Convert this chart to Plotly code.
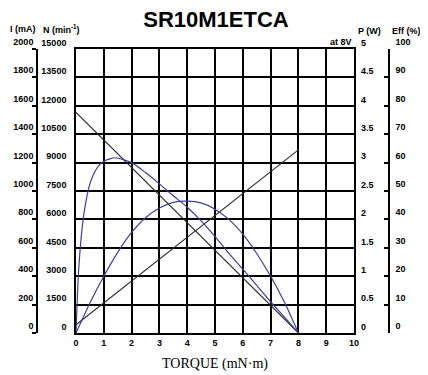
import plotly.graph_objects as go

# ---- data ----
torque_ticks = [0, 1, 2, 3, 4, 5, 6, 7, 8, 9, 10]
current_ticks = [0, 200, 400, 600, 800, 1000, 1200, 1400, 1600, 1800, 2000]
speed_ticks = [0, 1500, 3000, 4500, 6000, 7500, 9000, 10500, 12000, 13500, 15000]
power_ticks = [0, 0.5, 1, 1.5, 2, 2.5, 3, 3.5, 4, 4.5, 5]
eff_ticks = [0, 10, 20, 30, 40, 50, 60, 70, 80, 90, 100]

speed_torque = [0, 8]
speed_rpm = [11650, 0]

current_torque = [0, 8]
current_ma = [58, 1290]

power_torque = [0, 0.5, 1, 1.5, 2, 2.5, 3, 3.5, 4, 4.5, 5, 5.5, 6, 6.5, 7, 7.5, 8]
power_w = [0, 0.53, 1.0, 1.42, 1.77, 2.03, 2.2, 2.3, 2.32, 2.29, 2.18, 2.0, 1.74, 1.4, 1.0, 0.54, 0]

eff_torque = [0, 0.05, 0.1, 0.2, 0.3, 0.5, 0.75, 1.0, 1.4, 2.0, 2.5, 3.0, 3.5, 4.0,
              4.5, 5.0, 5.5, 6.0, 6.5, 7.0, 7.5, 8.0]
eff_pct = [0, 13, 23, 35, 43, 52.5, 58, 60.5, 61.7, 60, 56.5, 52.5, 48.3, 44.3,
           39.5, 34, 28, 22.5, 16.8, 11, 5.6, 0]

title_text = "SR10M1ETCA"
voltage_text = "at 8V"

# ---- styling (screen pixel targets, page body adds an 8px offset) ----
OFF = 8
W, H = 428 - OFF, 375 - OFF


def sx(v):
    return v - OFF


L_PX, R_PX, T_PX, B_PX = sx(76), sx(354), sx(49), sx(333)
BLUE = "#3a3f9c"
DARK = "#2b2b2b"
TICKFONT = dict(family="Liberation Sans, Arial, sans-serif", size=9, color="black", weight="bold")

fig = go.Figure()
fig.add_trace(go.Scatter(x=speed_torque, y=speed_rpm, mode="lines", yaxis="y",
                         line=dict(color=DARK, width=1.1), hoverinfo="skip"))
fig.add_trace(go.Scatter(x=current_torque, y=current_ma, mode="lines", yaxis="y2",
                         line=dict(color=DARK, width=1.1), hoverinfo="skip"))
fig.add_trace(go.Scatter(x=power_torque, y=power_w, mode="lines", yaxis="y3",
                         line=dict(color=BLUE, width=1.2, shape="spline", smoothing=0.6), hoverinfo="skip"))
fig.add_trace(go.Scatter(x=eff_torque, y=eff_pct, mode="lines", yaxis="y4",
                         line=dict(color=BLUE, width=1.2, shape="spline", smoothing=0.6), hoverinfo="skip"))

grid = dict(showgrid=True, gridcolor="black", gridwidth=1.6, zeroline=False)

fig.update_layout(
    width=W, height=H,
    margin=dict(l=0, r=0, t=T_PX, b=H - B_PX),
    paper_bgcolor="white", plot_bgcolor="white",
    showlegend=False,
    title=dict(text=title_text, x=sx(216) / W, xanchor="center", y=1 - sx(19) / H, yanchor="middle",
               yref="container",
               font=dict(family="Liberation Sans, Arial, sans-serif", size=22, color="black", weight="bold")),
    xaxis=dict(domain=[L_PX / W, R_PX / W], range=[0, 10], tickvals=torque_ticks,
               ticktext=[str(v) for v in torque_ticks],
               showline=True, linecolor="black", linewidth=1.6, mirror=True,
               ticks="", tickfont=TICKFONT, automargin=False,
               title=dict(text="TORQUE (mN·m)", standoff=12,
                          font=dict(family="Liberation Serif, Times New Roman, serif", size=14, color="black")),
               **grid),
    yaxis=dict(range=[0, 15000], tickvals=speed_ticks, ticktext=[str(v) for v in speed_ticks],
               showline=True, linecolor="black",
               linewidth=1.6, mirror=True, ticks="", tickfont=TICKFONT,
               ticklabelposition="outside top", ticklabelstandoff=6, automargin=False, **grid),
    yaxis2=dict(range=[0, 2000], tickvals=current_ticks, ticktext=[str(v) for v in current_ticks],
                overlaying="y", side="left",
                anchor="free", position=sx(37) / W, showgrid=False, zeroline=False,
                showline=True, linecolor="black", linewidth=1.6,
                ticks="outside", ticklen=4, tickwidth=1.6, tickcolor="black",
                tickfont=TICKFONT, ticklabelposition="outside top", ticklabelstandoff=1,
                automargin=False),
    yaxis3=dict(range=[0, 5], tickvals=power_ticks, ticktext=[f"{v:g}" for v in power_ticks],
                overlaying="y", side="right",
                anchor="x", showgrid=False, zeroline=False, showline=False, ticks="",
                tickfont=TICKFONT, ticklabelposition="outside top", ticklabelstandoff=6,
                automargin=False),
    yaxis4=dict(range=[0, 100], tickvals=eff_ticks, ticktext=[str(v) for v in eff_ticks],
                overlaying="y", side="right",
                anchor="free", position=sx(389) / W, showgrid=False, zeroline=False,
                showline=True, linecolor="black", linewidth=1.6,
                ticks="inside", ticklen=4, tickwidth=1.6, tickcolor="black",
                tickfont=TICKFONT, ticklabelposition="outside top", ticklabelstandoff=4,
                automargin=False),
)

HEADFONT = dict(family="Liberation Sans, Arial, sans-serif", size=9, color="black", weight="bold")
pH = B_PX - T_PX


def py(v):
    return (B_PX - sx(v)) / pH


headers = [
    ("I (mA)", 23, 29, "center"),
    ("N (min<sup>-1</sup>)", 62, 29, "center"),
    ("P (W)", 369, 31, "center"),
    ("Eff (%)", 406, 31, "center"),
    (voltage_text, 354, 42, "right"),
]
for txt, x, y, anchor in headers:
    fig.add_annotation(text=txt, xref="paper", yref="paper", x=sx(x) / W, y=py(y),
                       xanchor=anchor, yanchor="middle", showarrow=False, font=HEADFONT)

fig.write_html("out.html")
